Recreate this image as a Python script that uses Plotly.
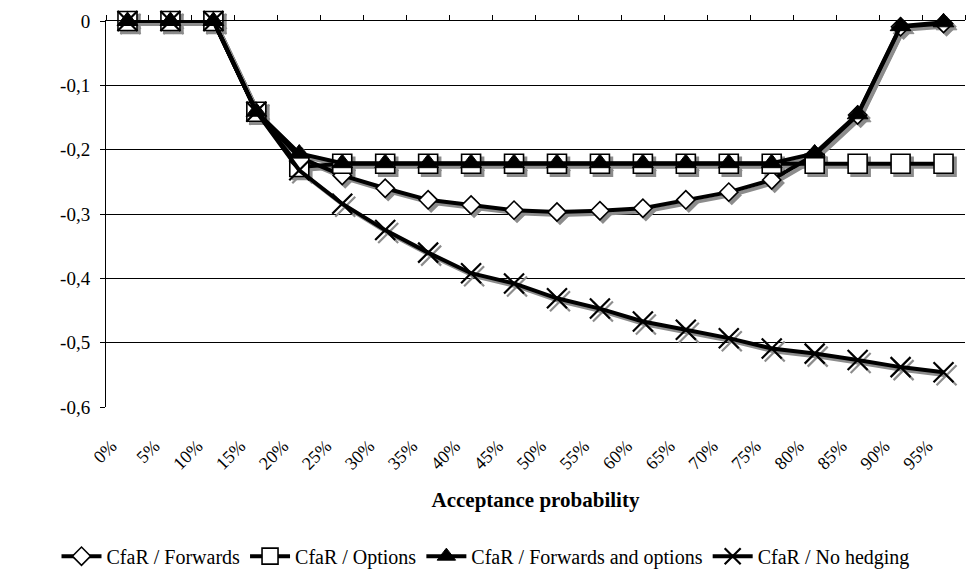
import plotly.graph_objects as go

categories = ["0%", "5%", "10%", "15%", "20%", "25%", "30%", "35%", "40%", "45%",
              "50%", "55%", "60%", "65%", "70%", "75%", "80%", "85%", "90%", "95%"]

cfar_forwards = [0, 0, 0, -0.141, -0.212, -0.240, -0.260, -0.278, -0.286, -0.294,
                 -0.297, -0.295, -0.291, -0.278, -0.266, -0.247, -0.208, -0.146, -0.009, -0.004]
cfar_options = [0, 0, 0, -0.141, -0.227, -0.222, -0.222, -0.222, -0.222, -0.222,
                -0.222, -0.222, -0.222, -0.222, -0.222, -0.222, -0.222, -0.222, -0.222, -0.222]
cfar_fwd_opt = [0, 0, 0, -0.141, -0.206, -0.221, -0.221, -0.221, -0.221, -0.221,
                -0.221, -0.221, -0.221, -0.221, -0.221, -0.221, -0.206, -0.145, -0.008, -0.002]
cfar_no_hedge = [0, 0, 0, -0.141, -0.232, -0.284, -0.325, -0.360, -0.392, -0.408,
                 -0.431, -0.447, -0.467, -0.480, -0.493, -0.509, -0.517, -0.527, -0.538, -0.546]

y_tick_values = [0, -0.1, -0.2, -0.3, -0.4, -0.5, -0.6]
y_tick_labels = ["0", "-0,1", "-0,2", "-0,3", "-0,4", "-0,5", "-0,6"]

series = [
    ("CfaR / Forwards", cfar_forwards, "diamond", 14, "white", 1.6),
    ("CfaR / Options", cfar_options, "square", 19, "white", 1.6),
    ("CfaR / Forwards and options", cfar_fwd_opt, "triangle-up", 18, "black", 1),
    ("CfaR / No hedging", cfar_no_hedge, "x-thin", 20, "black", 2.2),
]

FONT = "Liberation Serif"
SHADOW = "#8c8c8c"
# shadow displacement in pixels (right, down)
plot_w = 971 - 106 - 6
plot_h = 571 - 21 - 164
dx_cat = 3 * len(categories) / plot_w
dy_val = 3 * 0.6 / plot_h

fig = go.Figure()

# invisible anchor trace so the base axes (labels, grid) are drawn
fig.add_trace(go.Scatter(
    x=categories, y=cfar_forwards, mode="lines", showlegend=False,
    hoverinfo="skip", opacity=0, line=dict(width=0),
))

# shadow traces (x2/y2, shifted ranges)
for name, vals, sym, size, fill, lw in series:
    fig.add_trace(go.Scatter(
        x=categories, y=vals, xaxis="x2", yaxis="y2", mode="lines+markers",
        showlegend=False, hoverinfo="skip", cliponaxis=False,
        line=dict(color=SHADOW, width=4),
        marker=dict(symbol=sym, size=size, color=SHADOW,
                    line=dict(color=SHADOW, width=lw)),
    ))

# main traces (x3/y3)
for name, vals, sym, size, fill, lw in series:
    fig.add_trace(go.Scatter(
        x=categories, y=vals, xaxis="x3", yaxis="y3", mode="lines+markers",
        name=name, cliponaxis=False,
        line=dict(color="black", width=4),
        marker=dict(symbol=sym, size=size, color=fill,
                    line=dict(color="black", width=lw)),
    ))

n = len(categories)
fig.update_layout(
    width=971, height=571,
    margin=dict(l=106, r=6, t=21, b=164),
    paper_bgcolor="white", plot_bgcolor="white",
    font=dict(family=FONT, size=16, color="black"),
    xaxis=dict(
        type="category", categoryorder="array", categoryarray=categories,
        range=[-0.5, n - 0.5], showgrid=False, showline=False, zeroline=False,
        ticks="", tickangle=-45, tickfont=dict(size=18, family=FONT),
        ticklabelstandoff=24, ticklabelshift=-16,
        title=dict(text="<b>Acceptance probability</b>", font=dict(size=21, family=FONT),
                   standoff=19),
    ),
    yaxis=dict(
        range=[-0.6, 0], tickvals=y_tick_values, ticktext=y_tick_labels,
        showgrid=True, gridcolor="black", gridwidth=1, zeroline=False,
        showline=True, linecolor="black", linewidth=1,
        ticks="outside", ticklen=5, tickcolor="black",
        ticklabelstandoff=6,
        tickfont=dict(size=19, family=FONT),
    ),
    xaxis2=dict(
        type="category", categoryorder="array", categoryarray=categories,
        overlaying="x", range=[-0.5 - dx_cat, n - 0.5 - dx_cat],
        showgrid=False, showline=False, zeroline=False, showticklabels=False, ticks="",
    ),
    yaxis2=dict(
        overlaying="y", range=[-0.6 + dy_val, 0 + dy_val],
        showgrid=False, showline=False, zeroline=False, showticklabels=False, ticks="",
    ),
    xaxis3=dict(
        type="category", categoryorder="array", categoryarray=categories,
        overlaying="x", side="top", range=[-0.5, n - 0.5],
        showgrid=False, zeroline=False, showline=True, linecolor="black", linewidth=1,
        ticks="outside", tickson="boundaries", ticklen=5, tickcolor="black",
        showticklabels=False,
    ),
    yaxis3=dict(
        overlaying="y", range=[-0.6, 0],
        showgrid=False, showline=False, zeroline=False, showticklabels=False, ticks="",
    ),
    legend=dict(
        orientation="h", xref="container", yref="container",
        x=0.5, xanchor="center", y=0.026, yanchor="middle",
        font=dict(size=20, family=FONT), itemwidth=40,
        tracegroupgap=0, bgcolor="rgba(0,0,0,0)",
    ),
    showlegend=True,
)

fig.write_html("out.html")
